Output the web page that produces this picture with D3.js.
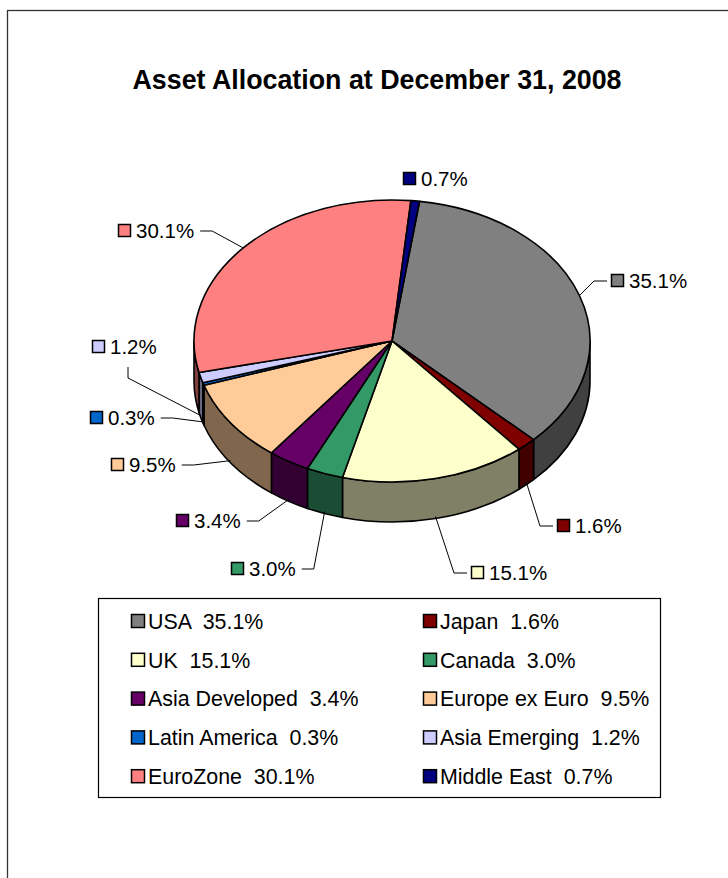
<!DOCTYPE html>
<html>
<head>
<meta charset="utf-8">
<script src="https://cdn.jsdelivr.net/npm/d3@7"></script>
<style>
    body { margin: 0; background: #fff; }
    text { font-family: "Liberation Sans", Arial, sans-serif; white-space: pre; }
</style>
</head>
<body>
<svg id="chart"></svg>
<script>
// data
const categories = ['USA', 'Japan', 'UK', 'Canada', 'Asia Developed', 'Europe ex Euro',
    'Latin America', 'Asia Emerging', 'EuroZone', 'Middle East']
const shares = [35.1, 1.6, 15.1, 3.0, 3.4, 9.5, 0.3, 1.2, 30.1, 0.7]
const topColors = ['#808080', '#800000', '#FFFFCC', '#339966', '#660066', '#FFCC99',
    '#0066CC', '#CCCCFF', '#FF8080', '#000080']
const sideColors = ['#404040', '#400000', '#808066', '#1A4D33', '#330033', '#80664D',
    '#003366', '#666680', '#804040', '#000040']
const legendOrder = [0, 1, 2, 3, 4, 5, 6, 7, 8, 9]

// where Excel put the data labels (square left edge, text centre, side of the leader)
const labelLayout = {
    'USA':            { x: 611, y: 281, side: 'right' },
    'Japan':          { x: 557, y: 526, side: 'right' },
    'UK':             { x: 471, y: 573, side: 'right' },
    'Canada':         { x: 231, y: 569, side: 'left' },
    'Asia Developed': { x: 176, y: 521, side: 'left' },
    'Europe ex Euro': { x: 111, y: 465, side: 'left' },
    'Latin America':  { x: 90,  y: 418, side: 'left' },
    'Asia Emerging':  { x: 92,  y: 347, side: 'above' },
    'EuroZone':       { x: 118, y: 231, side: 'left' },
    'Middle East':    { x: 403, y: 179, side: 'none' }
}

const width = 728, height = 878
const pie3d = { cx: 392, cy: 341, rx: 198, ry: 141, depth: 40, start: 8 * Math.PI / 180 }
const fmt = d => d3.format('.1f')(d) + '%'

const svg = d3.select('#chart')
    .attr('width', width)
    .attr('height', height)

// outer frame (right and bottom run off the page)
svg.append('rect')
    .attr('x', 7.5).attr('y', 10.5)
    .attr('width', 800).attr('height', 900)
    .attr('fill', 'none')
    .attr('stroke', '#333')
    .attr('stroke-width', 1.3)

svg.append('text')
    .attr('x', 377).attr('y', 89)
    .attr('text-anchor', 'middle')
    .attr('font-size', 26.8)
    .attr('font-weight', 'bold')
    .text('Asset Allocation at December 31, 2008')

const data = categories.map((c, i) => ({ name: c, value: shares[i], i: i }))

const arcs = d3.pie()
    .sort(null)
    .value(d => d.value)
    .startAngle(pie3d.start)
    .endAngle(pie3d.start + 2 * Math.PI)(data)

const pt = (a, dy = 0) => [pie3d.cx + pie3d.rx * Math.sin(a), pie3d.cy - pie3d.ry * Math.cos(a) + dy]

function topPath(d) {
    const p0 = pt(d.startAngle), p1 = pt(d.endAngle)
    const large = d.endAngle - d.startAngle > Math.PI ? 1 : 0
    return `M${pie3d.cx},${pie3d.cy}L${p0}A${pie3d.rx},${pie3d.ry} 0 ${large} 1 ${p1}Z`
}

function sidePath(d) {
    const s = Math.max(d.startAngle, Math.PI / 2)
    const e = Math.min(d.endAngle, 3 * Math.PI / 2)
    if (s >= e) return null
    const large = e - s > Math.PI ? 1 : 0
    return `M${pt(s)}A${pie3d.rx},${pie3d.ry} 0 ${large} 1 ${pt(e)}` +
        `L${pt(e, pie3d.depth)}A${pie3d.rx},${pie3d.ry} 0 ${large} 0 ${pt(s, pie3d.depth)}Z`
}

const pieG = svg.append('g')

pieG.selectAll('path.side')
    .data(arcs.filter(d => sidePath(d)))
    .join('path')
    .attr('class', 'side')
    .attr('d', sidePath)
    .attr('fill', d => sideColors[d.data.i])
    .attr('stroke', '#000')
    .attr('stroke-width', 1.6)
    .attr('stroke-linejoin', 'round')

pieG.selectAll('path.top')
    .data(arcs)
    .join('path')
    .attr('class', 'top')
    .attr('d', topPath)
    .attr('fill', d => topColors[d.data.i])
    .attr('stroke', '#000')
    .attr('stroke-width', 1.6)
    .attr('stroke-linejoin', 'round')

// data labels with leader lines
const labelG = svg.append('g')
const sq = 13

arcs.forEach(d => {
    const lay = labelLayout[d.data.name]
    const g = labelG.append('g')
    g.append('rect')
        .attr('x', lay.x + 0.5).attr('y', lay.y - sq / 2)
        .attr('width', sq - 1).attr('height', sq - 1)
        .attr('fill', topColors[d.data.i])
        .attr('stroke', '#000')
        .attr('stroke-width', 1.5)
    const t = g.append('text')
        .attr('x', lay.x + sq + 5).attr('y', lay.y)
        .attr('dy', '0.36em')
        .attr('font-size', 20.5)
        .text(fmt(d.data.value))

    if (lay.side === 'none') return
    const mid = (d.startAngle + d.endAngle) / 2
    const front = Math.cos(mid) < 0
    const from = pt(mid, front ? pie3d.depth - 2 : 0)
    let end, elbow
    if (lay.side === 'right') {
        end = [lay.x - 4, lay.y]
        elbow = [end[0] - 13, lay.y]
    } else if (lay.side === 'left') {
        const textRight = lay.x + sq + 5 + t.node().getComputedTextLength()
        end = [textRight + 6, lay.y]
        elbow = [end[0] + 12, lay.y]
    } else {
        end = [lay.x + 36, lay.y + 20]
        elbow = [end[0], end[1] + 11]
    }
    labelG.append('path')
        .attr('d', d3.line()([from, elbow, end]))
        .attr('fill', 'none')
        .attr('stroke', '#000')
        .attr('stroke-width', 1)
})

// legend
const legend = { x: 98.5, y: 598.5, w: 562, h: 199, rowY: 621, rowStep: 38.8, colX: [131, 423] }

svg.append('rect')
    .attr('x', legend.x).attr('y', legend.y)
    .attr('width', legend.w).attr('height', legend.h)
    .attr('fill', '#fff')
    .attr('stroke', '#000')
    .attr('stroke-width', 1.2)

const items = svg.append('g').selectAll('g')
    .data(legendOrder.map(i => data[i]))
    .join('g')
    .attr('transform', (d, k) => `translate(${legend.colX[k % 2]}, ${legend.rowY + Math.floor(k / 2) * legend.rowStep})`)

items.append('rect')
    .attr('x', 0.5).attr('y', -sq / 2)
    .attr('width', sq).attr('height', sq)
    .attr('fill', d => topColors[d.i])
    .attr('stroke', '#000')
    .attr('stroke-width', 1.5)

items.append('text')
    .attr('x', sq + 4).attr('dy', '0.36em')
    .attr('font-size', 21.4)
    .text(d => `${d.name}  ${fmt(d.value)}`)
</script>
</body>
</html>
